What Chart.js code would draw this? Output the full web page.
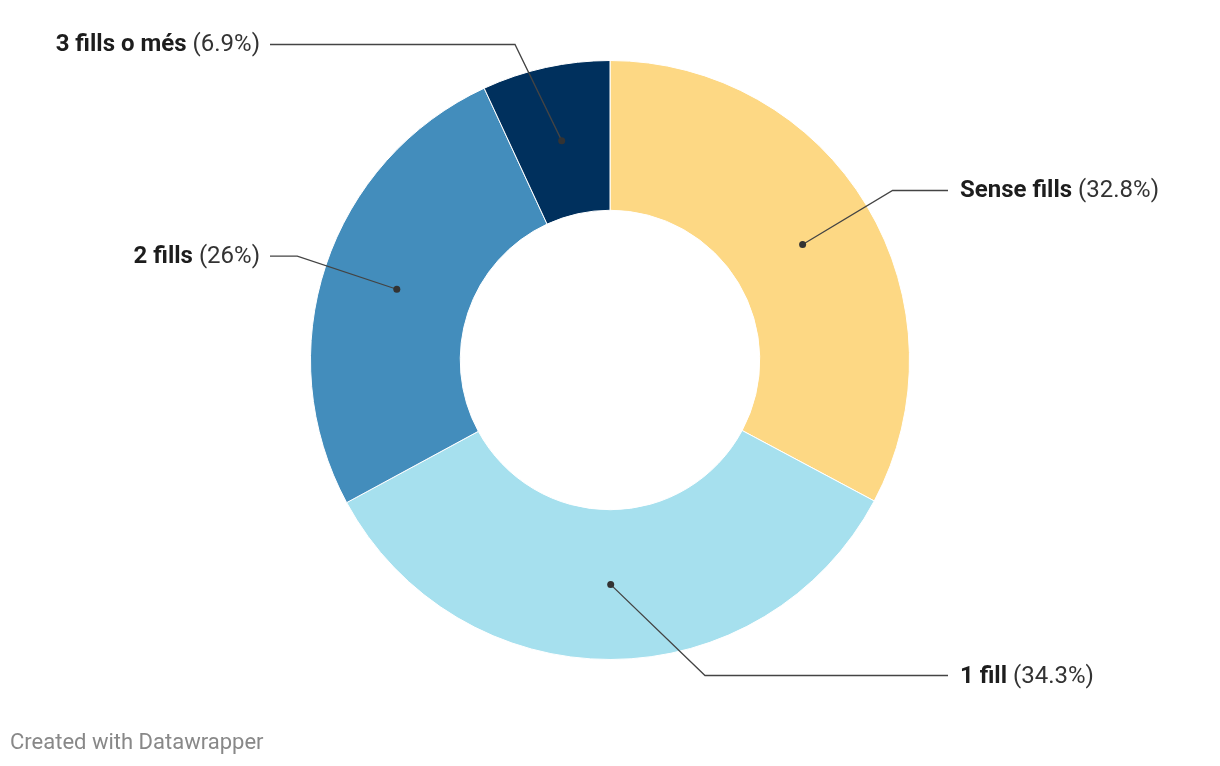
<!DOCTYPE html>
<html>
<head>
<meta charset="utf-8">
<script src="https://cdn.jsdelivr.net/npm/chart.js@4/dist/chart.umd.min.js"></script>
<style>
  body { margin: 0; background: #fff; }
  #wrap { position: relative; width: 1220px; height: 766px; }
  #footer {
    position: absolute; left: 10px; top: 729px;
    font-family: Roboto, sans-serif; font-size: 22px; color: #888;
  }
</style>
</head>
<body>
<div id="wrap">
  <canvas id="donut" width="1220" height="766"></canvas>
  <div id="footer">Created with Datawrapper</div>
</div>
<script>
const categories = ['Sense fills', '1 fill', '2 fills', '3 fills o més'];
const shares = [32.8, 34.3, 26, 6.9];
const colors = ['#fdd884', '#a6e0ee', '#438dbc', '#00305d'];

// leader lines + labels, datawrapper style
const labelLines = {
  id: 'labelLines',
  afterDraw(chart) {
    const ctx = chart.ctx;
    const meta = chart.getDatasetMeta(0);
    ctx.save();
    meta.data.forEach((arc, i) => {
      const p = arc.getProps(['x', 'y', 'startAngle', 'endAngle', 'innerRadius', 'outerRadius'], true);
      const mid = (p.startAngle + p.endAngle) / 2;
      const rMid = (p.innerRadius + p.outerRadius) / 2;
      const dotX = p.x + Math.cos(mid) * rMid;
      const dotY = p.y + Math.sin(mid) * rMid;

      const rOut = p.outerRadius + 30;
      let ex = Math.cos(mid) * rOut;
      let ey = Math.sin(mid) * rOut;
      if (Math.abs(ex) < 95) {
        ex = ex >= 0 ? 95 : -95;
        ey = (ey >= 0 ? 1 : -1) * Math.sqrt(rOut * rOut - 95 * 95);
      }
      const right = ex >= 0;
      const elbowX = p.x + ex, elbowY = p.y + ey;
      const endX = p.x + (right ? 338 : -340);

      ctx.strokeStyle = '#444';
      ctx.lineWidth = 1.3;
      ctx.beginPath();
      ctx.moveTo(dotX, dotY);
      ctx.lineTo(elbowX, elbowY);
      ctx.lineTo(endX, elbowY);
      ctx.stroke();

      ctx.fillStyle = '#333';
      ctx.beginPath();
      ctx.arc(dotX, dotY, 3.5, 0, Math.PI * 2);
      ctx.fill();

      const bold = categories[i];
      const reg = ' (' + shares[i] + '%)';
      ctx.textBaseline = 'middle';
      ctx.fillStyle = '#1d1d1d';
      ctx.font = 'bold 24px Roboto';
      const bw = ctx.measureText(bold).width;
      ctx.font = '24px Roboto';
      const rw = ctx.measureText(reg).width;
      let tx = right ? p.x + 350 : p.x - 350 - bw - rw;
      ctx.textAlign = 'left';
      ctx.font = 'bold 24px Roboto';
      ctx.fillText(bold, tx, elbowY + 1);
      ctx.font = '24px Roboto';
      ctx.fillStyle = '#333';
      ctx.fillText(reg, tx + bw, elbowY + 1);
    });
    ctx.restore();
  }
};

new Chart(document.getElementById('donut'), {
  type: 'doughnut',
  data: {
    labels: categories,
    datasets: [{
      data: shares,
      backgroundColor: colors,
      borderColor: '#fff',
      borderWidth: 1,
      hoverOffset: 0
    }]
  },
  options: {
    responsive: false,
    animation: false,
    cutout: '50%',
    layout: { padding: { top: 60, bottom: 106, left: 310, right: 310 } },
    plugins: {
      legend: { display: false },
      tooltip: { enabled: false }
    }
  },
  plugins: [labelLines]
});
</script>
</body>
</html>
